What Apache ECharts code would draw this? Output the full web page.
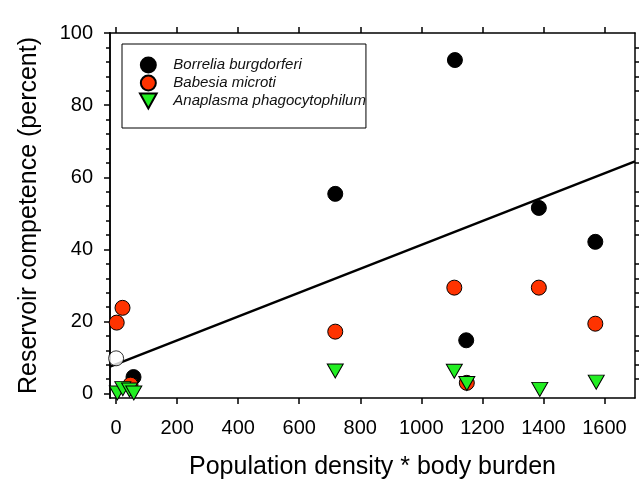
<!DOCTYPE html>
<html>
<head>
<meta charset="utf-8">
<script src="https://cdn.jsdelivr.net/npm/echarts@6/dist/echarts.min.js"></script>
<style>html,body{margin:0;padding:0;background:#fff;}#c{width:641px;height:487px;}</style>
</head>
<body>
<div id="c"></div>
<script>
// Data
var borreliaX = [1110, 718, 1385, 1570, 1147, 57];
var borreliaY = [92.5, 55.4, 51.5, 42.1, 14.8, 4.6];
var babesiaX = [2, 21, 47, 718, 1108, 1385, 1570, 1149];
var babesiaY = [19.7, 23.8, 2.5, 17.2, 29.4, 29.4, 19.4, 3.0];
var anaplasmaX = [4, 22, 44, 58, 718, 1108, 1149, 1388, 1573];
var anaplasmaY = [0.2, 1.4, 1.0, 0.2, 6.3, 6.2, 2.8, 1.2, 3.2];
var openX = [0];
var openY = [9.8];
var fitX = [-20, 1700];
var fitY = [7.5, 64.4];
var xTicks = [0, 200, 400, 600, 800, 1000, 1200, 1400, 1600];
var yTicks = [0, 20, 40, 60, 80, 100];
var yMinor = [4, 8, 12, 16, 24, 28, 32, 36, 44, 48, 52, 56, 64, 68, 72, 76, 84, 88, 92, 96];

function pairs(xs, ys) { return xs.map(function (x, i) { return [x, ys[i]]; }); }

var FONT = '"Liberation Sans", Arial, Helvetica, sans-serif';
var TRI = 'path://M0,0 L10,0 L5,9 Z';
var chart = echarts.init(document.getElementById('c'));
var XMIN = -20, XMAX = 1700, YMIN = -1.2, YMAX = 100;
function plain(v) { return String(v); }
function line() { return { show: true, onZero: false, lineStyle: { color: '#000', width: 1.5 } }; }
function tick(len, vals) { return { show: true, length: len, customValues: vals, lineStyle: { color: '#000', width: 1.5 } }; }
function g() { return { left: 110, right: 6, top: 33, bottom: 89 }; }

chart.setOption({
  animation: false,
  backgroundColor: '#fff',
  grid: [g(), g(), g()],
  legend: {
    orient: 'vertical',
    left: 122, top: 44,
    data: ['Borrelia burgdorferi', 'Babesia microti', 'Anaplasma phagocytophilum'],
    itemWidth: 40, itemHeight: 15, itemGap: 0,
    padding: [12, 0, 18, 17],
    borderColor: '#000', borderWidth: 1,
    backgroundColor: '#fff',
    textStyle: { fontFamily: FONT, fontStyle: 'italic', fontSize: 15, lineHeight: 18, color: '#111' }
  },
  xAxis: [
    {
      gridIndex: 0, type: 'value', position: 'bottom', min: XMIN, max: XMAX,
      name: 'Population density * body burden', nameLocation: 'middle', nameGap: 57,
      nameTextStyle: { fontFamily: FONT, fontSize: 25, color: '#000' },
      axisLine: line(), axisTick: tick(6, xTicks),
      axisLabel: { customValues: xTicks, formatter: plain, fontFamily: FONT, fontSize: 20, color: '#000', margin: 20 },
      splitLine: { show: false }
    },
    {
      gridIndex: 1, type: 'value', position: 'top', min: XMIN, max: XMAX,
      axisLine: line(), axisTick: tick(6, xTicks),
      axisLabel: { show: false }, splitLine: { show: false }
    },
    {
      gridIndex: 2, type: 'value', position: 'bottom', min: XMIN, max: XMAX,
      axisLine: { show: false, onZero: false }, axisTick: { show: false }, axisLabel: { show: false }, splitLine: { show: false }
    }
  ],
  yAxis: [
    {
      gridIndex: 0, type: 'value', position: 'left', min: YMIN, max: YMAX,
      name: 'Reservoir competence (percent)', nameLocation: 'middle', nameGap: 68,
      nameTextStyle: { fontFamily: FONT, fontSize: 25, color: '#000' },
      axisLine: line(), axisTick: tick(6, yTicks),
      axisLabel: { customValues: yTicks, formatter: plain, fontFamily: FONT, fontSize: 20, color: '#000', margin: 17 },
      splitLine: { show: false }
    },
    {
      gridIndex: 1, type: 'value', position: 'right', min: YMIN, max: YMAX,
      axisLine: line(), axisTick: tick(4, yMinor),
      axisLabel: { show: false }, splitLine: { show: false }
    },
    {
      gridIndex: 2, type: 'value', position: 'left', min: YMIN, max: YMAX,
      axisLine: line(), axisTick: tick(4, yMinor),
      axisLabel: { show: false }, splitLine: { show: false }
    }
  ],
  series: [
    {
      name: 'fit', type: 'line', data: pairs(fitX, fitY), showSymbol: false, symbol: 'none',
      lineStyle: { color: '#000', width: 2.5 }, z: 1, silent: true
    },
    {
      name: 'open', type: 'scatter', data: pairs(openX, openY), symbol: 'circle', symbolSize: 15,
      itemStyle: { color: '#fff', borderColor: '#000', borderWidth: 1 }, z: 2
    },
    {
      name: 'Borrelia burgdorferi', type: 'scatter', data: pairs(borreliaX, borreliaY), symbol: 'circle', symbolSize: 15,
      itemStyle: { color: '#000', borderColor: '#000', borderWidth: 1, opacity: 1 }, z: 3
    },
    {
      name: 'Babesia microti', type: 'scatter', data: pairs(babesiaX, babesiaY), symbol: 'circle', symbolSize: 15,
      itemStyle: { color: '#ff3300', borderColor: '#000', borderWidth: 1, opacity: 1 }, z: 4
    },
    {
      name: 'Anaplasma phagocytophilum', type: 'scatter', data: pairs(anaplasmaX, anaplasmaY), symbol: TRI, symbolSize: [16, 14],
      itemStyle: { color: '#22ee22', borderColor: '#000', borderWidth: 1, opacity: 1 }, z: 5
    }
  ]
});
</script>
</body>
</html>
